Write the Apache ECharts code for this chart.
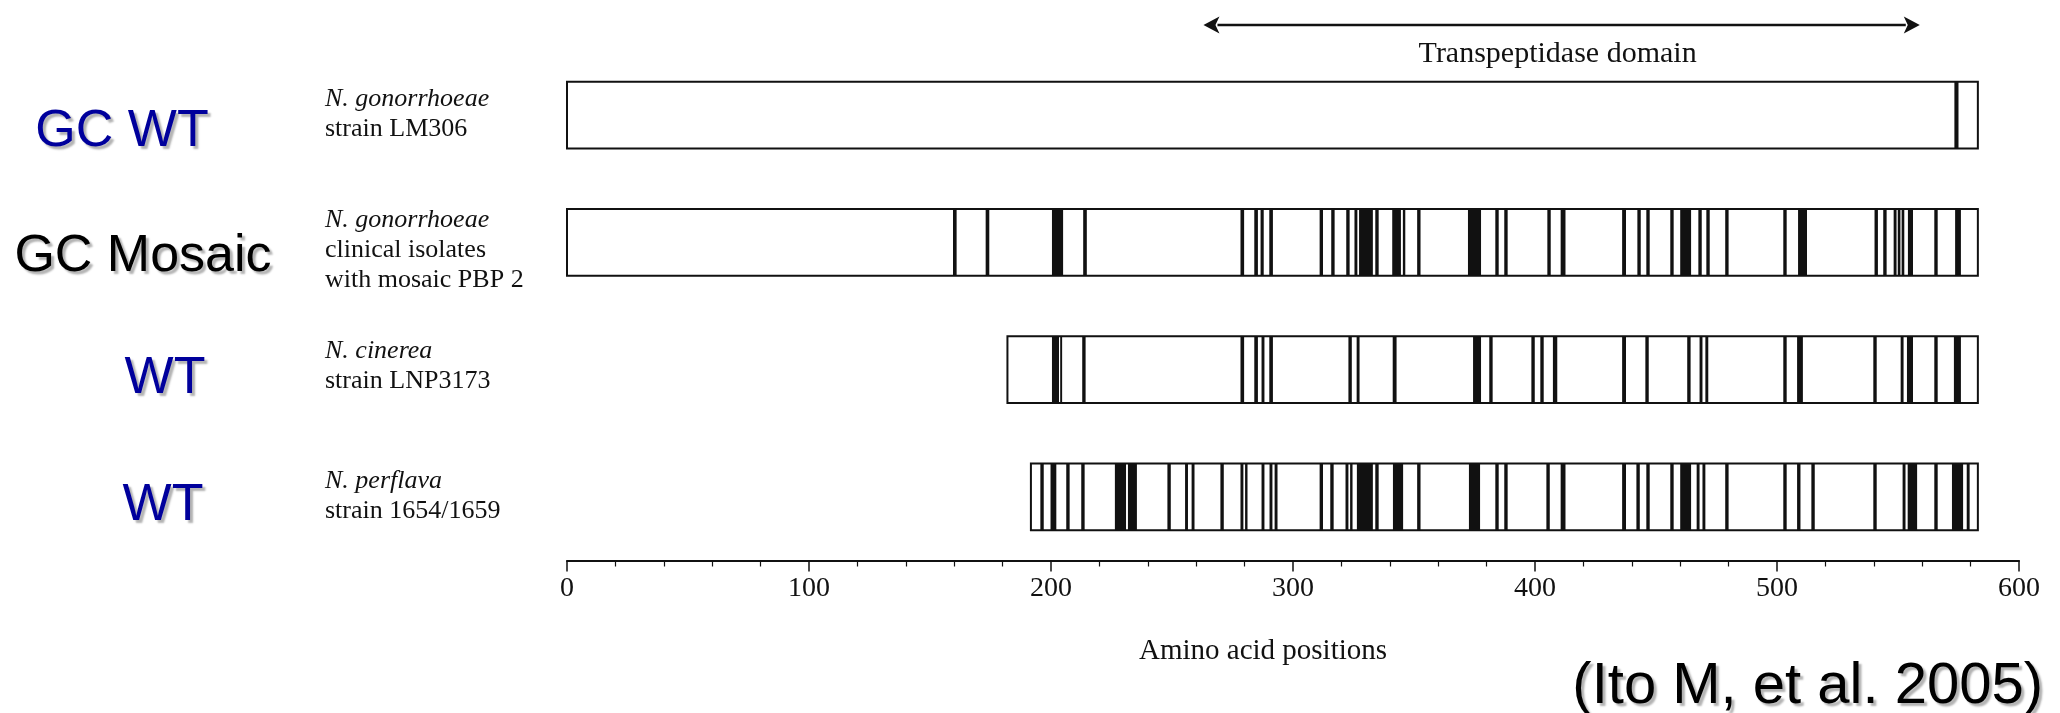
<!DOCTYPE html>
<html><head><meta charset="utf-8">
<script src="https://cdn.jsdelivr.net/npm/echarts@6/dist/echarts.min.js"></script>
<style>html,body{margin:0;padding:0;background:#fff}#c{width:2060px;height:713px}</style>
</head><body><div id="c"></div>
<script>
// ---------- data ----------
const rowNames = ['GC WT', 'GC Mosaic', 'WT (N. cinerea)', 'WT (N. perflava)'];
const groupLabels = ['GC WT', 'GC Mosaic', 'WT', 'WT'];
const groupColors = ['#00009c', '#000000', '#00009c', '#00009c'];
const speciesItalic = ['N. gonorrhoeae', 'N. gonorrhoeae', 'N. cinerea', 'N. perflava'];
const speciesRest = [['strain LM306'], ['clinical isolates', 'with mosaic PBP 2'], ['strain LNP3173'], ['strain 1654/1659']];
const proteinStart = [0, 0, 182, 191.7];
const proteinEnd = [583, 583, 583, 583];

const stripesGCWT = [[573.3, 575]];
const stripesMosaic = [
  [159.5,161],[173,174.5],[200.4,205],[213.3,214.8],[278.3,279.8],[284,285.5],[286.6,287.9],[290.2,291.7],
  [311,312.4],[315.8,317.2],[322,323.4],[325.4,326.6],[327.3,333],[334,335.4],[341,344.6],[345.4,346.4],
  [351.3,352.7],[372.3,377.7],[383.6,385],[387.3,388.7],[405.1,406.5],[410.6,412.6],[436,437.6],[442.3,443.7],
  [446,447.4],[455.9,457.3],[460,464.5],[467.5,468.9],[470.8,472.2],[478.6,480],[502.6,504],[508.7,512.4],
  [540.3,541.7],[543.9,545.3],[548.2,549.4],[549.9,551],[551.5,552.6],[554.1,556.2],[565,566.4],[573.6,576]
];
const stripesCinerea = [
  [200.4,203.3],[203.8,204.6],[212.9,214.3],[278.3,279.8],[284,285.5],[287,288.2],[290.2,291.7],[322.9,324.3],
  [326.3,327.5],[341.2,342.8],[374.4,377.7],[381.1,382.5],[398.5,399.9],[402.2,403.6],[407.4,409.2],[436,437.6],
  [445.6,447],[462.9,464.3],[468,469.2],[470.4,471.6],[502.6,504],[508.3,510.7],[539.8,541.2],[551.1,552.3],
  [553.7,556.2],[565,566.4],[573.1,576]
];
const stripesPerflava = [
  [195.6,197],[199.8,202.2],[206.3,207.7],[212.5,213.9],[226.4,231],[231.8,235.5],[248.1,249.5],[255.4,256.6],
  [258.1,259.3],[270,271.4],[278.3,279.5],[280.2,281.2],[287,288.2],[290.3,291.5],[292.4,293.6],[311,312.4],
  [315.4,316.8],[321.7,322.9],[323.6,324.6],[326.4,333],[334,335.4],[341.3,345.5],[351.3,352.7],[372.7,377.3],
  [383.6,385],[387.3,388.7],[404.7,406.1],[410.6,412.6],[436,437.6],[441.9,443.3],[446,447.4],[455.9,457.3],
  [460,464.5],[466.8,468],[469.2,470.4],[478.6,480],[502.6,504],[508.3,509.7],[514.2,515.6],[539.8,541.2],
  [551.9,553.1],[554,557.9],[565,566.4],[572.3,576.9],[578.4,579.6]
];
const xTickLabels = ['0', '100', '200', '300', '400', '500', '600'];
const xAxisTitle = 'Amino acid positions';
const domainLabel = 'Transpeptidase domain';
const domainRange = [263, 559];
const citation = '(Ito M, et al. 2005)';

// ---------- build ----------
const allStripes = [stripesGCWT, stripesMosaic, stripesCinerea, stripesPerflava];
const proteinData = proteinStart.map((s, i) => [i, s, proteinEnd[i]]);
const stripeData = [];
allStripes.forEach((list, i) => list.forEach(p => stripeData.push([i, p[0], p[1]])));

const SERIF = '"Liberation Serif", "DejaVu Serif", serif';
const SANS = '"Liberation Sans", Arial, sans-serif';

function rectItem(api, fillStyle) {
  const r = api.value(0), s = api.value(1), e = api.value(2);
  const p0 = api.coord([s, r]);
  const p1 = api.coord([e, r]);
  const h = api.size([0, 1])[1] * 0.526;
  return { type: 'rect', shape: { x: p0[0], y: p0[1] - h / 2, width: p1[0] - p0[0], height: h }, style: fillStyle };
}

const chart = echarts.init(document.getElementById('c'), null, { renderer: 'canvas' });
const option = {
  backgroundColor: '#ffffff',
  animation: false,
  grid: { left: 567, right: 41, top: 51.5, height: 509 },
  xAxis: {
    type: 'value', min: 0, max: 600, interval: 100,
    axisLine: { show: true, lineStyle: { color: '#111', width: 2 } },
    axisTick: { show: true, length: 11, lineStyle: { color: '#111', width: 1.5 } },
    minorTick: { show: true, splitNumber: 5, length: 6, lineStyle: { color: '#111', width: 1.2 } },
    splitLine: { show: false },
    axisLabel: { color: '#111', fontFamily: SERIF, fontSize: 28, margin: 14,
      formatter: v => xTickLabels[Math.round(v / 100)] },
    name: xAxisTitle, nameLocation: 'middle', nameGap: 76,
    nameTextStyle: { color: '#111', fontFamily: SERIF, fontSize: 29, padding: [0, 60, 0, 0] }
  },
  yAxis: { type: 'category', data: rowNames, inverse: true, show: false },
  series: [
    { type: 'custom', data: proteinData, encode: { x: [1, 2], y: 0 }, z: 2,
      renderItem: (p, api) => rectItem(api, { fill: '#fff', stroke: '#111', lineWidth: 2 }) },
    { type: 'custom', data: stripeData, encode: { x: [1, 2], y: 0 }, z: 3,
      renderItem: (p, api) => rectItem(api, { fill: '#111' }) }
  ]
};
chart.setOption(option);

// ---------- annotations placed through the chart's own scales ----------
const graphics = [];
const shadow = { textShadowColor: 'rgba(0,0,0,0.3)', textShadowOffsetX: 3, textShadowOffsetY: 3, textShadowBlur: 2 };
const groupX = [122, 143, 165, 163];
const groupDy = [17, 14, 9, 9];
const speciesDy = [-1, 8, -3, -1];
rowNames.forEach((n, i) => {
  const y = chart.convertToPixel({ gridIndex: 0 }, [0, i])[1];
  graphics.push({ type: 'text', x: groupX[i], y: y + groupDy[i], style: Object.assign({
    text: groupLabels[i], fill: groupColors[i], font: '52px ' + SANS, align: 'center', verticalAlign: 'middle' }, shadow) });
  const lines = ['{i|' + speciesItalic[i] + '}'].concat(speciesRest[i].map(t => '{n|' + t + '}'));
  graphics.push({ type: 'text', x: 325, y: y + speciesDy[i], style: {
    text: lines.join('\n'), verticalAlign: 'middle', align: 'left', fill: '#111',
    rich: { i: { fontStyle: 'italic', fontFamily: SERIF, fontSize: 26, lineHeight: 30, fill: '#111' },
            n: { fontFamily: SERIF, fontSize: 26, lineHeight: 30, fill: '#111' } } } });
});
const xa = chart.convertToPixel({ gridIndex: 0 }, [domainRange[0], 0])[0];
const xb = chart.convertToPixel({ gridIndex: 0 }, [domainRange[1], 0])[0];
const ay = 25, ah = 16, aw = 8.5;
graphics.push({ type: 'line', shape: { x1: xa + ah - 2, y1: ay, x2: xb - ah + 2, y2: ay }, style: { stroke: '#111', lineWidth: 2.5 } });
graphics.push({ type: 'polygon', shape: { points: [[xa, ay], [xa + ah, ay - aw], [xa + ah - 4, ay], [xa + ah, ay + aw]] }, style: { fill: '#111' } });
graphics.push({ type: 'polygon', shape: { points: [[xb, ay], [xb - ah, ay - aw], [xb - ah + 4, ay], [xb - ah, ay + aw]] }, style: { fill: '#111' } });
graphics.push({ type: 'text', x: (xa + xb) / 2 - 4, y: 54, style: { text: domainLabel, font: '30px ' + SERIF, fill: '#111', align: 'center', verticalAlign: 'middle' } });
graphics.push({ type: 'text', x: 2043, y: 687, style: Object.assign({ text: citation, font: '58px ' + SANS, fill: '#000', align: 'right', verticalAlign: 'middle' }, shadow) });
chart.setOption({ graphic: graphics });
</script></body></html>
